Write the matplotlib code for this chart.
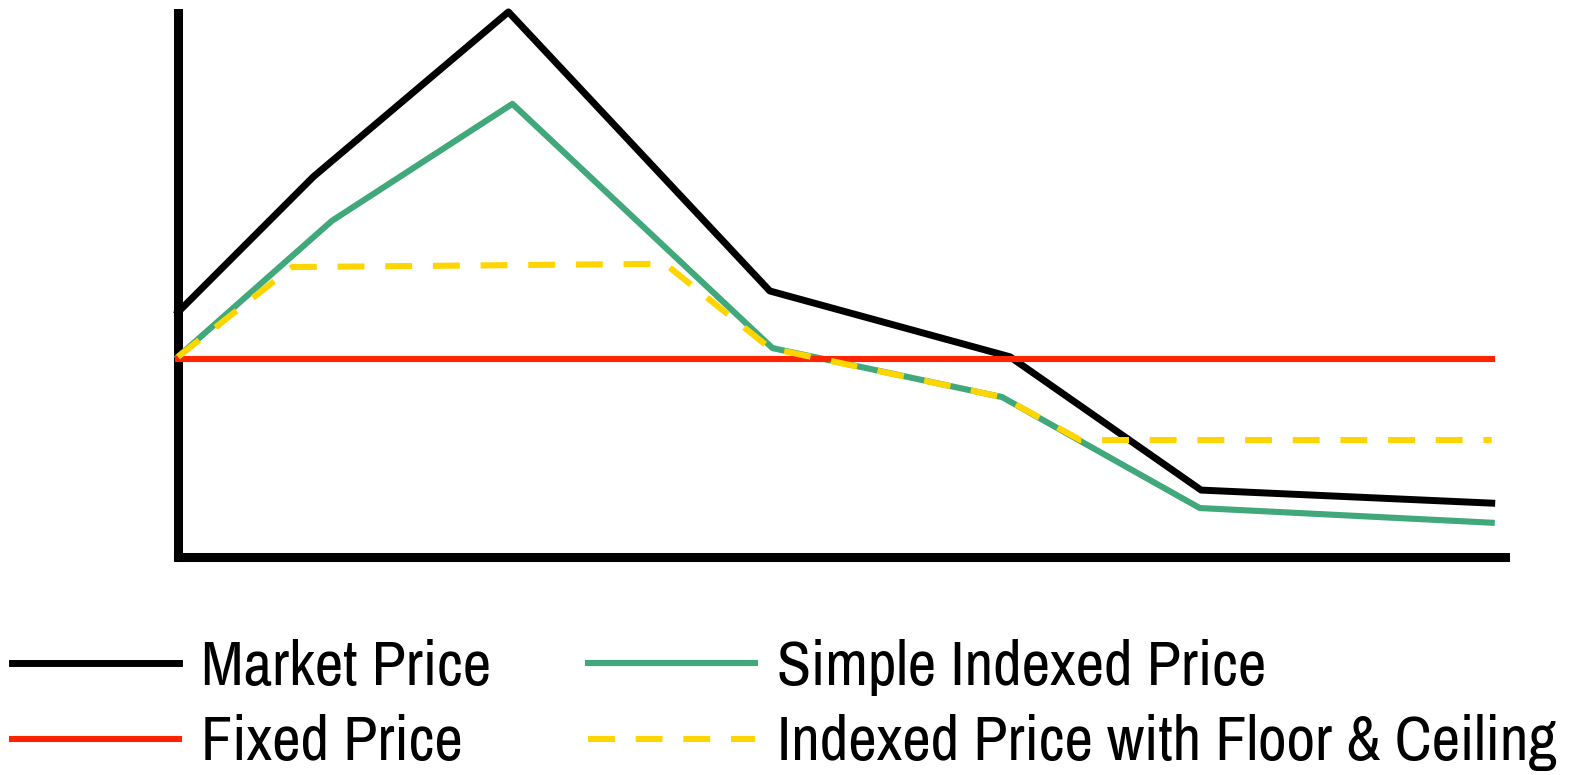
import matplotlib
matplotlib.use("Agg")
import matplotlib.pyplot as plt

FONT = ['Archivo Narrow', 'Liberation Sans', 'DejaVu Sans']
plt.rcParams['font.family'] = FONT

# Data (x on 0..10 axis, y on 0..10 axis)
market_x = [0.0, 1.02, 2.49, 4.46, 6.27, 7.71, 9.90]
market_y = [4.50, 6.99, 10.02, 4.89, 3.68, 1.23, 0.99]

simple_x = [0.0, 1.16, 2.52, 4.48, 6.21, 7.70, 9.90]
simple_y = [3.68, 6.18, 8.33, 3.84, 2.94, 0.90, 0.63]

floor_x = [0.0, 0.86, 3.67, 4.46, 6.21, 6.80, 9.90]
floor_y = [3.68, 5.33, 5.39, 3.84, 2.94, 2.15, 2.15]

fixed_x = [0.0, 9.90]
fixed_y = [3.64, 3.64]

labels = ["Market Price", "Fixed Price", "Simple Indexed Price",
          "Indexed Price with Floor & Ceiling"]

BLACK = "#000000"
RED = "#FF2400"
GREEN = "#40A87A"
YELLOW = "#FFD500"

W, H = 1572, 775
fig = plt.figure(figsize=(W/100, H/100), dpi=100)
ax = fig.add_axes([178/W, 1 - 557/H, (1505-178)/W, (557-13)/H])

l_market, = ax.plot(market_x, market_y, color=BLACK, lw=5.0, clip_on=False, zorder=2)
l_simple, = ax.plot(simple_x, simple_y, color=GREEN, lw=4.4, clip_on=False, zorder=3)
l_fixed, = ax.plot(fixed_x, fixed_y, color=RED, lw=4.4, clip_on=False, zorder=4)
l_floor, = ax.plot(floor_x, floor_y, color=YELLOW, lw=4.4, clip_on=False,
                   dashes=(4.4, 3.4), zorder=5)

ax.set_xlim(0, 10)
ax.set_ylim(0, 10)
ax.set_xticks([])
ax.set_yticks([])
for s in ['top', 'right']:
    ax.spines[s].set_visible(False)
for s in ['left', 'bottom']:
    ax.spines[s].set_linewidth(6.5)
    ax.spines[s].set_color(BLACK)
    ax.spines[s].set_capstyle('projecting')

# fit font size so the longest label spans ~780 px
renderer = fig.canvas.get_renderer()
probe = fig.text(0, 0, labels[3], fontsize=40)
wpx = probe.get_window_extent(renderer).width
probe.remove()
fs = 40 * 780 / wpx
fs_px = fs * 100 / 72

fig.legend([l_market, l_fixed, l_simple, l_floor], labels, ncol=2,
           loc='upper left', bbox_to_anchor=(12/W, 1 - 639/H),
           frameon=False, fontsize=fs, handlelength=167/fs_px,
           handletextpad=22/fs_px, columnspacing=97/fs_px,
           labelspacing=0.15 + 9/fs_px, borderpad=0, borderaxespad=0)

fig.savefig("out.png", dpi=100, facecolor='white')
